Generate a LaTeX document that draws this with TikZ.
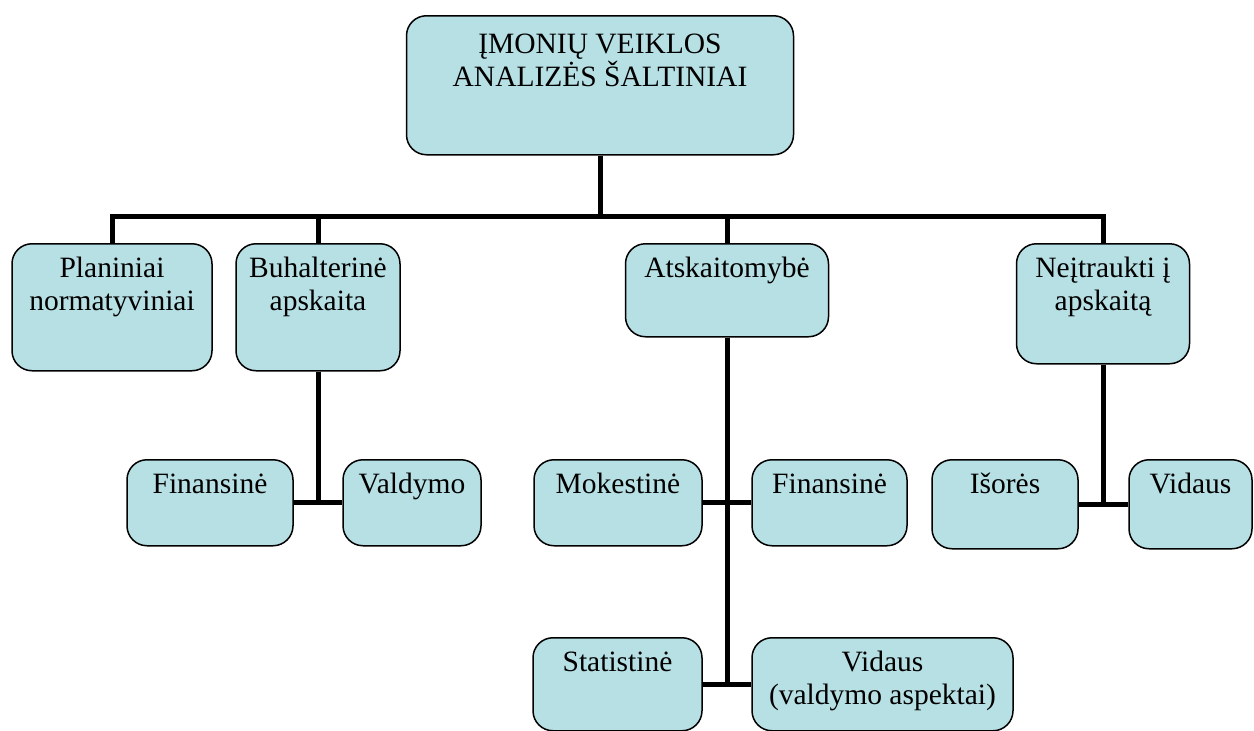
\documentclass[tikz,border=0pt]{standalone}
\usepackage{fontspec}
\setmainfont{Liberation Serif}
\usepackage{xcolor}
\usepackage{tikz}
\usetikzlibrary{positioning}
\definecolor{boxblue}{RGB}{183,224,228}
\tikzset{conn/.style = {line width=5pt, line join=miter},
         tree/.style = {to path={|- (\tikztotarget)}}}

\begin{document}
\begin{tikzpicture}[x=1pt,y=-1pt,main node/.style={draw,line width=1.5pt,rounded corners=20pt,fill=boxblue,align=center,anchor=north,inner sep=8pt,text height=26pt,font=\fontsize{29.5}{33}\selectfont}]
                \useasboundingbox (0,0) rectangle (1254,731);

                \node[main node, minimum width=387pt, text height=63pt, text depth=60pt] (1) at (600,15) {ĮMONIŲ VEIKLOS\\ANALIZĖS ŠALTINIAI};
                \node[main node, minimum width=200pt, text height=59pt, text depth=52pt] (2) at (112,243) {Planiniai\\normatyviniai};
                \node[main node, minimum width=164pt, text height=59pt, text depth=52pt] (3) at (318,243) {Buhalterinė\\apskaita};
                \node[main node, minimum width=203pt, text depth=51pt] (4) at (727,243) {Atskaitomybė};
                \node[main node, minimum width=173pt, text height=59pt, text depth=45pt] (5) at (1103,243) {Neįtraukti į\\apskaitą};

                \node[main node, minimum width=166pt, text depth=44pt] (6) at (210,459) {Finansinė};
                \node[main node, minimum width=138pt, text depth=44pt] (7) at (412,459) {Valdymo};
                \node[main node, minimum width=168pt, text depth=44pt] (8) at (618,459) {Mokestinė};
                \node[main node, minimum width=155pt, text depth=44pt] (9) at (829.5,459) {Finansinė};
                \node[main node, minimum width=146pt, text depth=47pt] (10) at (1005,459) {Išorės};
                \node[main node, minimum width=123pt, text depth=47pt] (11) at (1190.5,459) {Vidaus};

                \node[main node, minimum width=169pt, text depth=51pt] (12) at (617.5,637) {Statistinė};
                \node[main node, minimum width=261pt, text height=59pt, text depth=18pt] (13) at (882.5,637) {Vidaus\\(valdymo aspektai)};

                \coordinate (bar) at (600,216);

                \path[conn]
                    (1) edge [tree] (bar)
                    (2) edge [tree] (bar)
                    (3) edge [tree] (bar)
                    (4) edge [tree] (bar)
                    (5) edge [tree] (bar)
                    (3) edge [tree] (6)
                    (3) edge [tree] (7)
                    (4) edge [tree] (8)
                    (4) edge [tree] (9)
                    (4) edge [tree] (12)
                    (4) edge [tree] (13)
                    (5) edge [tree] (10)
                    (5) edge [tree] (11)
                    ;
            \end{tikzpicture}
\end{document}
